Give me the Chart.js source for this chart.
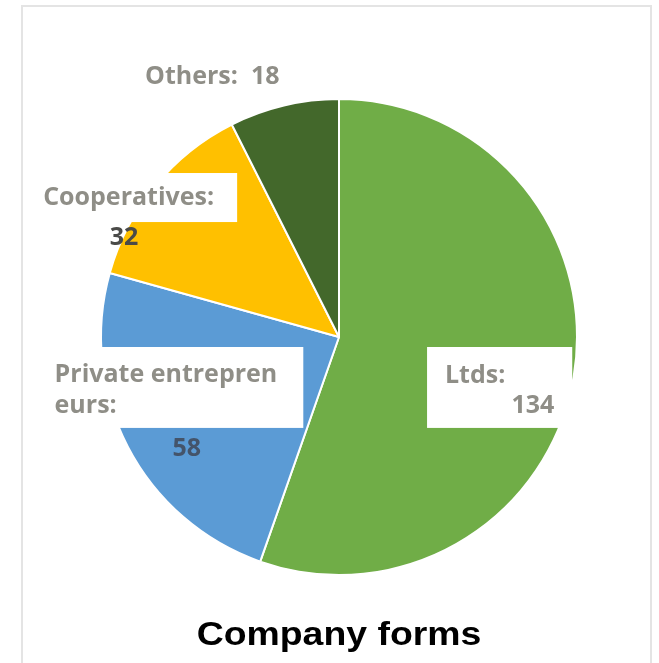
<!DOCTYPE html>
<html>
<head>
<meta charset="utf-8">
<script src="https://cdn.jsdelivr.net/npm/chart.js@4.4.1/dist/chart.umd.min.js"></script>
<style>
  html, body { margin: 0; padding: 0; background: #fff; }
  #wrap { position: relative; width: 659px; height: 663px; overflow: hidden; }
  #frame {
    position: absolute; left: 21px; top: 5px; width: 631px; height: 700px;
    border: 2px solid #e4e4e4; box-sizing: border-box;
  }
  canvas { position: absolute; left: 0; top: 0; }
</style>
</head>
<body>
<div id="wrap">
  <div id="frame"></div>
  <canvas id="pie" width="659" height="663"></canvas>
</div>
<script>
const categories = ['Ltds', 'Private entrepreneurs', 'Cooperatives', 'Others'];
const values = [134, 58, 32, 18];
const sliceColors = ['#70AD47', '#5B9BD5', '#FFC000', '#43682B'];
const chartTitle = 'Company forms';

const labelFont = 'bold 25px "Open Sans"';
const labelGrey = '#8f8e87';

// label layout per slice, offsets as fractions of the radius from the centre
// box: white box behind label, lines: [text, dx, dy, align, color]
const labelSpecs = [
  {
    box: [0.37, 0.042, 0.61, 0.34],
    lines: [
      ['Ltds:', 0.445, 0.195, 'left', labelGrey],
      ['134', 0.905, 0.32, 'right', labelGrey],
    ],
  },
  {
    box: [-1.0, 0.042, 0.85, 0.34],
    lines: [
      ['Private entrepren', -1.195, 0.19, 'left', labelGrey],
      ['eurs:', -1.195, 0.318, 'left', labelGrey],
      ['58', -0.64, 0.5, 'center', '#44546A'],
    ],
  },
  {
    box: [-1.243, -0.689, 0.815, 0.206],
    lines: [
      ['Cooperatives:', -1.243, -0.555, 'left', labelGrey],
      ['32', -0.903, -0.387, 'center', '#4a4a48'],
    ],
  },
  {
    box: null,
    lines: [['Others:  18', -0.815, -1.065, 'left', labelGrey]],
  },
];

const labelPlugin = {
  id: 'sliceLabels',
  afterDatasetsDraw(chart) {
    const ctx = chart.ctx;
    const arc = chart.getDatasetMeta(0).data[0];
    const cx = arc.x, cy = arc.y, r = arc.outerRadius;
    ctx.save();
    ctx.font = labelFont;
    ctx.textBaseline = 'alphabetic';
    labelSpecs.forEach((spec) => {
      if (spec.box) {
        const [bx, by, bw, bh] = spec.box;
        ctx.fillStyle = '#ffffff';
        ctx.fillRect(cx + bx * r, cy + by * r, bw * r, bh * r);
      }
    });
    labelSpecs.forEach((spec) => {
      spec.lines.forEach(([txt, dx, dy, align, col]) => {
        ctx.fillStyle = col;
        ctx.textAlign = align;
        ctx.fillText(txt, cx + dx * r, cy + dy * r);
      });
    });
    // title under the pie, a bit wide like the source
    ctx.fillStyle = '#000';
    ctx.font = 'bold 34px "Liberation Sans", Arial';
    ctx.textAlign = 'center';
    ctx.translate(cx, chart.height - 18);
    ctx.scale(1.1, 1);
    ctx.fillText(chartTitle, 0, 0);
    ctx.restore();
  },
};

new Chart(document.getElementById('pie').getContext('2d'), {
  type: 'pie',
  data: {
    labels: categories,
    datasets: [
      {
        data: values,
        backgroundColor: sliceColors,
        borderColor: '#ffffff',
        borderWidth: 2,
      },
    ],
  },
  options: {
    responsive: false,
    animation: false,
    layout: { padding: { left: 100, right: 81, top: 98, bottom: 87 } },
    plugins: {
      legend: { display: false },
      tooltip: { enabled: false },
      title: { display: false },
    },
  },
  plugins: [labelPlugin],
});
</script>
</body>
</html>
